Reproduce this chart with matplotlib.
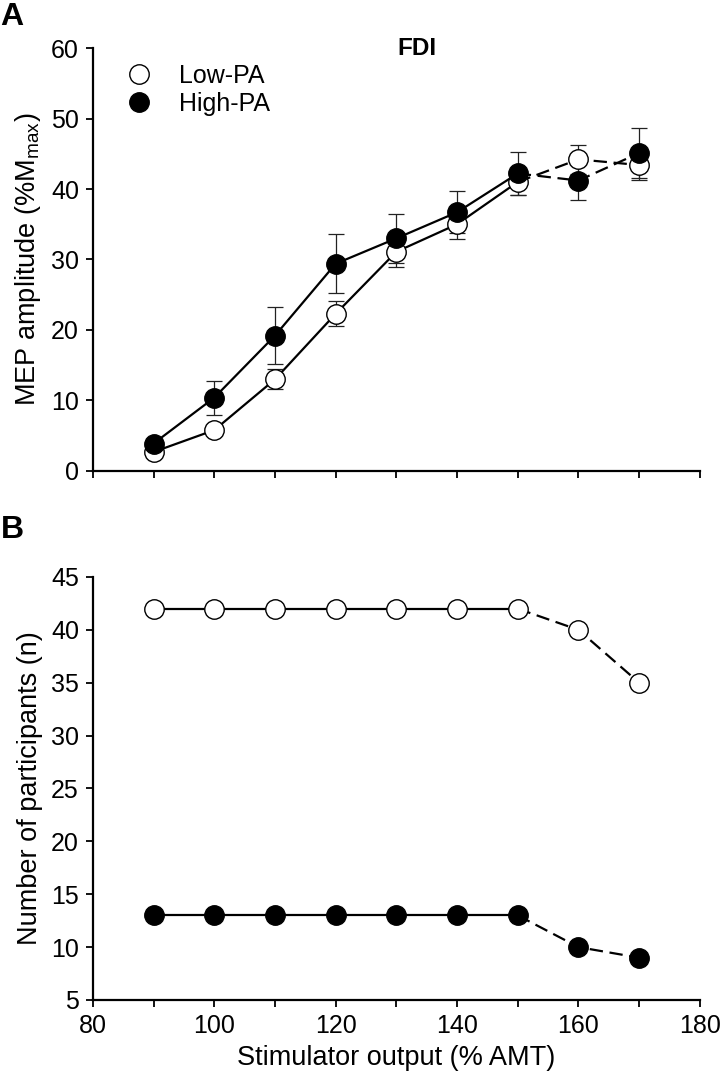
import matplotlib.pyplot as plt
from matplotlib.lines import Line2D

plt.rcParams['font.family'] = ['Liberation Sans', 'DejaVu Sans']
plt.rcParams['mathtext.fontset'] = 'custom'
plt.rcParams['mathtext.rm'] = 'Liberation Sans'

# stimulator intensities (% AMT)
intensity = [90, 100, 110, 120, 130, 140, 150, 160, 170]

# panel A: MEP amplitude (% Mmax), mean and SE
low_mep = [2.7, 5.8, 13.0, 22.3, 31.1, 35.0, 41.0, 44.2, 43.4]
low_se = [0.5, 0.6, 1.4, 1.8, 2.1, 2.1, 1.8, 2.1, 2.1]
high_mep = [3.9, 10.4, 19.2, 29.4, 33.0, 36.7, 42.2, 41.2, 45.1]
high_se = [0.6, 2.4, 4.0, 4.2, 3.5, 3.0, 3.0, 2.7, 3.5]

# panel B: number of participants
low_n = [42, 42, 42, 42, 42, 42, 42, 40, 35]
high_n = [13, 13, 13, 13, 13, 13, 13, 10, 9]

split = 6  # last point of the solid part, then dashed

fig = plt.figure(figsize=(7.2, 10.86), dpi=100)
axA = fig.add_axes([0.129, 0.5663, 0.843, 0.3895])
axB = fig.add_axes([0.129, 0.0792, 0.843, 0.3895])

ms = 14
lw = 1.6
dash = (0, (6, 3))


def draw_series(ax, y, fill, err=None):
    x = intensity
    ax.plot(x[:split + 1], y[:split + 1], color='black', lw=lw, zorder=2)
    ax.plot(x[split:], y[split:], color='black', lw=lw, ls=dash, zorder=2)
    if err is not None:
        ax.errorbar(x, y, yerr=err, fmt='none', ecolor='#222222',
                    elinewidth=0.9, capsize=5.5, capthick=0.9, zorder=3)
    ax.plot(x, y, ls='none', marker='o', ms=ms, mfc=fill, mec='black',
            mew=1.0, zorder=4)


draw_series(axA, low_mep, 'white', low_se)
draw_series(axA, high_mep, 'black', high_se)
draw_series(axB, low_n, 'white')
draw_series(axB, high_n, 'black')

for ax in (axA, axB):
    ax.spines['top'].set_visible(False)
    ax.spines['right'].set_visible(False)
    ax.spines['left'].set_linewidth(1.6)
    ax.spines['bottom'].set_linewidth(1.6)
    ax.tick_params(direction='out', length=5, width=1.3, labelsize=18, pad=5)
    ax.set_xlim(80, 180)
    ax.set_xticks(range(80, 181, 10))

axA.set_ylim(0, 60)
axA.set_yticks(range(0, 61, 10))
axA.set_xticklabels([])
axA.set_ylabel(r'MEP amplitude (%M$_\mathregular{max}$)', fontsize=19.5, labelpad=6)
axA.text(0.534, 1.0, 'FDI', transform=axA.transAxes, ha='center', va='center',
         fontsize=17.5, fontweight='bold')

axB.set_ylim(5, 45)
axB.set_yticks(range(5, 46, 5))
axB.set_xticklabels([str(v) if v % 20 == 0 else '' for v in range(80, 181, 10)])
axB.set_ylabel('Number of participants (n)', fontsize=19.5, labelpad=6)
axB.set_xlabel('Stimulator output (% AMT)', fontsize=19.5, labelpad=5)

handles = [
    Line2D([], [], ls='none', marker='o', ms=ms, mfc='white', mec='black', mew=1.0),
    Line2D([], [], ls='none', marker='o', ms=ms, mfc='black', mec='black', mew=1.0),
]
axA.legend(handles, ['Low-PA', 'High-PA'], loc='upper left',
           bbox_to_anchor=(0.015, 1.015), frameon=False, fontsize=18,
           handlelength=1.2, handletextpad=1.0, labelspacing=0.15)

fig.text(0.017, 0.984, 'A', fontsize=23, fontweight='bold', ha='center', va='center')
fig.text(0.017, 0.512, 'B', fontsize=23, fontweight='bold', ha='center', va='center')

fig.savefig('out.png', dpi=100)
